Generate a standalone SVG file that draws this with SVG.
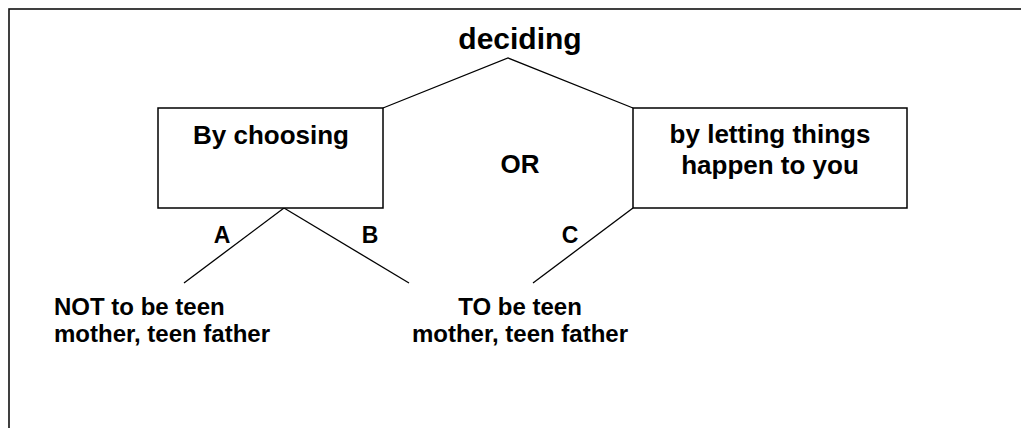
<svg xmlns="http://www.w3.org/2000/svg" width="1021" height="428" viewBox="0 0 1021 428">
<style>
.t{font-family:"Liberation Sans",Arial,sans-serif;font-weight:bold;fill:#000}
.box{fill:#fff;stroke:#000;stroke-width:1.5}
.c{fill:none;stroke:#000;stroke-width:1.3}
</style>
<rect x="0" y="0" width="1021" height="428" fill="#fff"/>
<rect x="9" y="9" width="1030" height="440" fill="none" stroke="#111" stroke-width="1.6"/>
<g id="connectors">
<polyline class="c" points="383,108 508,58 633,108"/>
<line class="c" x1="284" y1="208" x2="184" y2="283"/>
<line class="c" x1="284" y1="208" x2="409" y2="283"/>
<line class="c" x1="633" y1="208" x2="533" y2="283"/>
<text class="t" x="222" y="243" font-size="23" text-anchor="middle">A</text>
<text class="t" x="370" y="243" font-size="23" text-anchor="middle">B</text>
<text class="t" x="570" y="243" font-size="23" text-anchor="middle">C</text>
</g>
<g id="deciding">
<text class="t" x="520" y="49" font-size="30" text-anchor="middle">deciding</text>
</g>
<g id="choosing">
<rect class="box" x="158" y="108" width="225" height="100"/>
<text class="t" x="271" y="144" font-size="26" text-anchor="middle">By choosing</text>
</g>
<g id="or">
<text class="t" x="520" y="173" font-size="26" text-anchor="middle">OR</text>
</g>
<g id="letting">
<rect class="box" x="633" y="108" width="274" height="100"/>
<text class="t" x="770" y="143" font-size="26" text-anchor="middle">by letting things</text>
<text class="t" x="770" y="174" font-size="26" text-anchor="middle">happen to you</text>
</g>
<g id="not">
<text class="t" x="54" y="315" font-size="24">NOT to be teen</text>
<text class="t" x="54" y="342" font-size="24">mother, teen father</text>
</g>
<g id="to">
<text class="t" x="520" y="315" font-size="24" text-anchor="middle">TO be teen</text>
<text class="t" x="520" y="342" font-size="24" text-anchor="middle">mother, teen father</text>
</g>
</svg>
